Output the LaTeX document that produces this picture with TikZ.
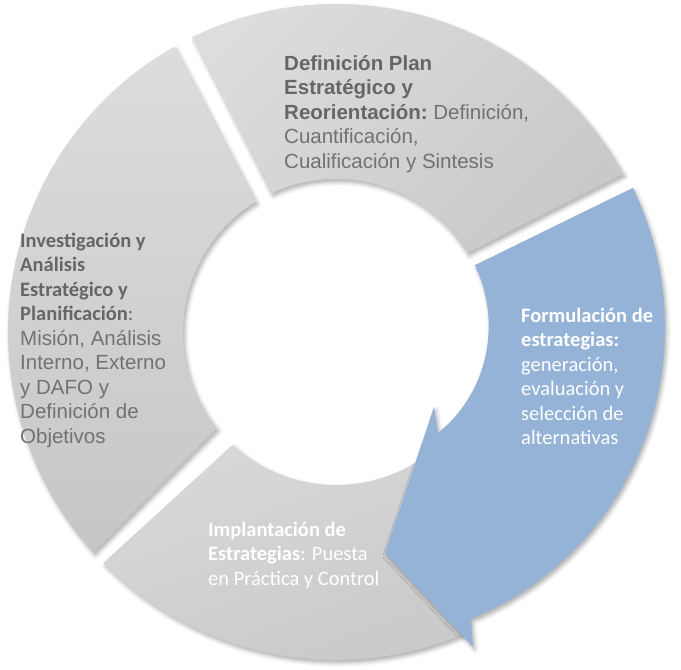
\documentclass[tikz,border=0pt]{standalone}
\usepackage{fontspec}
\setmainfont{Liberation Sans}
\newfontfamily\calibri{Carlito}
\usetikzlibrary{shadows.blur}
\definecolor{segblue}{HTML}{95B3D7}
\definecolor{greyA}{HTML}{DDDDDD}
\definecolor{greyB}{HTML}{C9C9C9}
\definecolor{greyC}{HTML}{DADADA}
\definecolor{greyD}{HTML}{C6C6C6}
\definecolor{txtbold}{HTML}{666666}
\definecolor{txtreg}{HTML}{727272}
\begin{document}
\begin{tikzpicture}[x=1pt,y=1pt,
  seg/.style={blur shadow={shadow xshift=2pt,shadow yshift=-3pt,shadow blur radius=4pt,shadow opacity=32}},
  lbl/.style={anchor=north west,inner sep=0pt,align=left,font=\fontsize{20.5}{24.5}\selectfont}]
\useasboundingbox (0,0) rectangle (681,670);
\coordinate (C) at (336,338);
% left segment
\path[seg, top color=greyA, bottom color=greyD, shading angle=0]
  ([shift={(C)}]119.5:328) arc[start angle=119.5, end angle=222.3, radius=328]
  -- ([shift={(C)}]219:153) arc[start angle=219, end angle=121.5, radius=153] -- cycle;
% top segment
\path[seg, top color=greyA, bottom color=greyB, shading angle=45]
  ([shift={(C)}]116:328) arc[start angle=116, end angle=28.8, radius=328]
  -- ([shift={(C)}]31:153) arc[start angle=31, end angle=115, radius=153] -- cycle;
% bottom segment
\path[seg, top color=greyC, bottom color=greyB, shading angle=20]
  ([shift={(C)}]224.8:328) arc[start angle=224.8, end angle=293, radius=328]
  -- ([shift={(C)}]335:153) arc[start angle=335, end angle=227.5, radius=153] -- cycle;
% blue arrow
\path[seg, fill=segblue]
  plot[domain=25.9:-64.8, samples=50, variable=\t]
    ({336+(330-13*((26-\t)/91)^2)*cos(\t)}, {338+(330-13*((26-\t)/91)^2)*sin(\t)})
  -- (473,23) -- (385,117) -- (434,263)
  -- plot[domain=-44.7:25.7, samples=40, variable=\t]
    ({336+(154-10.5*((26-\t)/70.7)^2)*cos(\t)}, {338+(154-10.5*((26-\t)/70.7)^2)*sin(\t)})
  -- cycle;
% texts
\node[lbl] (ttop) at (284,619) {\rule{0pt}{19pt}\color{txtbold}\textbf{Definición Plan}\\
  \color{txtbold}\textbf{Estratégico y}\\
  \color{txtbold}\textbf{Reorientación:}\ \color{txtreg}Definición,\\
  \color{txtreg}Cuantificación,\\
  \color{txtreg}Cualificación y Sintesis};
\node[lbl] (tleft) at (20,442) {\rule{0pt}{19pt}\color{txtbold}{\calibri\bfseries Investigación y}\\
  \color{txtbold}{\calibri\bfseries Análisis}\\
  \color{txtbold}{\calibri\bfseries Estratégico y}\\
  \color{txtbold}{\calibri\bfseries Planificación}{\calibri :}\\
  \color{txtreg}Misión, Análisis\\
  \color{txtreg}Interno, Externo\\
  \color{txtreg}y DAFO y\\
  \color{txtreg}Definición de\\
  \color{txtreg}Objetivos};
\node[lbl, text=white, font=\calibri\fontsize{20.5}{24.5}\selectfont] (tright) at (521,367)
  {\rule{0pt}{19pt}\textbf{Formulación de}\\
  \textbf{estrategias:}\\
  generación,\\
  evaluación y\\
  selección de\\
  alternativas};
\node[lbl, text=white, font=\calibri\fontsize{20.5}{24.5}\selectfont] (tbottom) at (208,153)
  {\rule{0pt}{19pt}\textbf{Implantación de}\\
  \textbf{Estrategias}: Puesta\\
  en Práctica y Control};
\end{tikzpicture}
\end{document}
